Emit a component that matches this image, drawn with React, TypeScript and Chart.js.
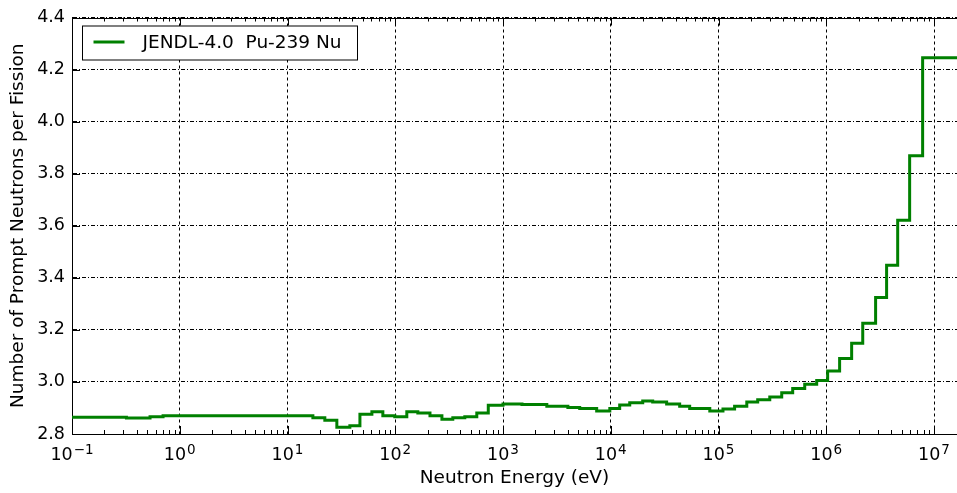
import React, { useEffect, useRef } from "react";
import { Chart, registerables } from "chart.js";

Chart.register(...registerables);

// Incident neutron energy (eV) at the start of each step
const energyEv = [
  0.1, 0.32, 0.53, 0.7, 17.2, 22.2, 28.7, 37.9, 47, 60.7, 76.7, 99, 128, 162,
  210, 271, 342, 442, 571, 730, 1000, 1500, 2550, 4000, 5150, 7400, 9800,
  12100, 15000, 19800, 24500, 33000, 43600, 54000, 83000, 110000, 141000,
  183000, 231000, 299000, 386000, 488000, 631000, 815000, 1030000, 1330000,
  1720000, 2180000, 2870000, 3630000, 4600000, 5940000, 7840000, 20000000,
];
// Prompt nu values
const nuPrompt = [
  2.864, 2.861, 2.866, 2.87, 2.862, 2.853, 2.826, 2.832, 2.876, 2.885, 2.87,
  2.866, 2.885, 2.881, 2.87, 2.857, 2.862, 2.866, 2.881, 2.91, 2.915, 2.913,
  2.907, 2.902, 2.898, 2.888, 2.898, 2.911, 2.92, 2.927, 2.923, 2.915, 2.907,
  2.898, 2.888, 2.896, 2.907, 2.923, 2.932, 2.942, 2.958, 2.975, 2.991, 3.006,
  3.042, 3.09, 3.149, 3.225, 3.324, 3.448, 3.621, 3.869, 4.245, 4.245,
];

const seriesLabel = "JENDL-4.0  Pu-239 Nu";
const xTickExponents = [-1, 0, 1, 2, 3, 4, 5, 6, 7];
const xTickLabelBase = "10";
const xTickLabelExp = ["\u22121", "0", "1", "2", "3", "4", "5", "6", "7"];
const yTickValues = [2.8, 3.0, 3.2, 3.4, 3.6, 3.8, 4.0, 4.2, 4.4];
const xTitle = "Neutron Energy (eV)";
const yTitle = "Number of Prompt Neutrons per Fission";

const X_MIN = 0.1;
const X_MAX = 1.634e7;
const Y_MIN = 2.8;
const Y_MAX = 4.4;
const FONT = "DejaVu Sans";
const GREEN = "#008000";

const decorPlugin = {
  id: "decor",
  afterDraw(chart: any) {
    const { ctx, chartArea } = chart;
    const { left, right, top, bottom } = chartArea;
    const xs = chart.scales.x;
    const ys = chart.scales.y;
    ctx.save();
    ctx.strokeStyle = "#000";
    ctx.lineWidth = 1;
    ctx.setLineDash([]);
    // top spine
    ctx.beginPath();
    ctx.moveTo(left, Math.round(top) + 0.5);
    ctx.lineTo(right, Math.round(top) + 0.5);
    ctx.stroke();
    // inward x ticks (major + minor), bottom and top
    ctx.beginPath();
    for (const e of xTickExponents) {
      for (let m = 1; m <= 9; m++) {
        const v = m * Math.pow(10, e);
        if (v < xs.min || v > xs.max) continue;
        const px = Math.round(xs.getPixelForValue(v)) + 0.5;
        const len = m === 1 ? 8 : 4;
        ctx.moveTo(px, bottom);
        ctx.lineTo(px, bottom - len);
        ctx.moveTo(px, top);
        ctx.lineTo(px, top + len);
      }
    }
    // inward y ticks on the left
    for (const v of yTickValues) {
      const py = Math.round(ys.getPixelForValue(v)) + 0.5;
      ctx.moveTo(left, py);
      ctx.lineTo(left + 8, py);
    }
    ctx.stroke();

    // x tick labels 10^n
    ctx.fillStyle = "#000";
    ctx.textBaseline = "alphabetic";
    ctx.textAlign = "left";
    xTickExponents.forEach((e, i) => {
      const px = xs.getPixelForValue(Math.pow(10, e));
      ctx.font = `17.5px "${FONT}"`;
      const wb = ctx.measureText(xTickLabelBase).width;
      ctx.font = `13.5px "${FONT}"`;
      const we = ctx.measureText(xTickLabelExp[i]).width;
      const x0 = px - (wb + we + 1) / 2;
      ctx.font = `17.5px "${FONT}"`;
      ctx.fillText(xTickLabelBase, x0, bottom + 26);
      ctx.font = `13.5px "${FONT}"`;
      ctx.fillText(xTickLabelExp[i], x0 + wb + 1, bottom + 20);
    });

    // legend
    const ds = chart.data.datasets[0];
    const bx = left + 10.5;
    const by = top + 8.5;
    const bw = 275;
    const bh = 34;
    ctx.fillStyle = "#fff";
    ctx.fillRect(bx, by, bw, bh);
    ctx.strokeStyle = "#000";
    ctx.lineWidth = 1;
    ctx.strokeRect(bx, by, bw, bh);
    ctx.strokeStyle = ds.borderColor;
    ctx.lineWidth = 3;
    ctx.beginPath();
    ctx.moveTo(bx + 11, by + 16);
    ctx.lineTo(bx + 42, by + 16);
    ctx.stroke();
    ctx.fillStyle = "#000";
    ctx.font = `18.5px "${FONT}"`;
    ctx.textBaseline = "middle";
    ctx.fillText(ds.label, bx + 60, by + 17);
    ctx.restore();
  },
};

export default function App() {
  const ref = useRef<HTMLCanvasElement | null>(null);
  useEffect(() => {
    if (!ref.current) return;
    const data = energyEv.map((e, i) => ({ x: e, y: nuPrompt[i] }));
    const chart = new Chart(ref.current, {
      type: "line",
      data: {
        datasets: [
          {
            label: seriesLabel,
            data,
            borderColor: GREEN,
            backgroundColor: GREEN,
            borderWidth: 3,
            pointRadius: 0,
            stepped: true,
            fill: false,
          },
        ],
      },
      options: {
        animation: false,
        responsive: false,
        layout: { padding: { top: 15, right: 0, bottom: 0, left: 0 } },
        plugins: {
          legend: { display: false },
          tooltip: { enabled: false },
        },
        scales: {
          x: {
            type: "logarithmic",
            min: X_MIN,
            max: X_MAX,
            afterBuildTicks: (s: any) => {
              s.ticks = xTickExponents.map((e) => ({ value: Math.pow(10, e) }));
            },
            afterFit: (s: any) => {
              s.height = 59;
            },
            ticks: { display: false },
            grid: { color: "#000", lineWidth: 1, drawTicks: false, tickLength: 0 },
            border: { display: true, color: "#000", width: 1, dash: [3, 3] },
            title: {
              display: true,
              text: xTitle,
              color: "#000",
              font: { family: FONT, size: 18.5 },
              padding: { top: 0, bottom: 4 },
            },
          },
          y: {
            type: "linear",
            min: Y_MIN,
            max: Y_MAX,
            afterBuildTicks: (s: any) => {
              s.ticks = yTickValues.map((v) => ({ value: v }));
            },
            afterFit: (s: any) => {
              s.width = 72;
            },
            ticks: {
              color: "#000",
              font: { family: FONT, size: 17.5 },
              padding: 7,
              callback: (v: any) => Number(v).toFixed(1),
            },
            grid: { color: "#000", lineWidth: 1, drawTicks: false, tickLength: 0 },
            border: { display: true, color: "#000", width: 1, dash: [4, 2, 1, 2] },
            title: {
              display: true,
              text: yTitle,
              color: "#000",
              font: { family: FONT, size: 18.5 },
              padding: { top: 7, bottom: 0 },
            },
          },
        },
      },
      plugins: [decorPlugin],
    });
    return () => chart.destroy();
  }, []);
  return (
    <div style={{ position: "fixed", left: 0, top: 0, width: 957, height: 493, background: "#fff" }}>
      <canvas ref={ref} width={957} height={493} style={{ display: "block" }} />
    </div>
  );
}
